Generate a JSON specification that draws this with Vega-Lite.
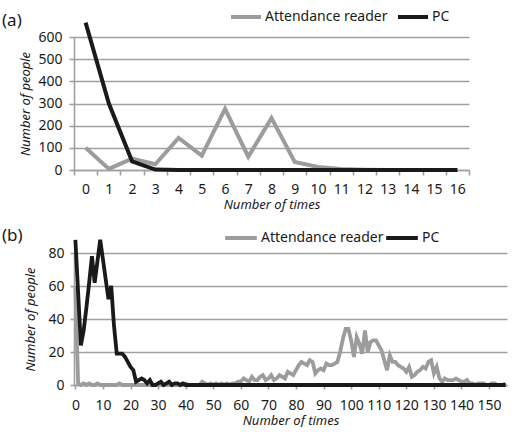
{
  "$schema": "https://vega.github.io/schema/vega-lite/v6.json",
  "padding": {"left": 2, "top": 0, "right": 5, "bottom": 0},
  "config": {
    "font": "Noto Sans",
    "view": {"stroke": null},
    "axis": {
      "labelFontSize": 14, "labelColor": "#1a1a1a",
      "titleFontSize": 13, "titleFontStyle": "italic", "titleFontWeight": "normal", "titleColor": "#1a1a1a",
      "domainColor": "#a0a0a0", "tickColor": "#a0a0a0", "gridColor": "#a0a0a0",
      "gridWidth": 1.6, "domainWidth": 1.6, "tickWidth": 1.6
    },
    "legend": {"labelFontSize": 14, "labelColor": "#1a1a1a"}
  },
  "spacing": 9,
  "resolve": {"scale": {"color": "independent"}, "legend": {"color": "independent"}},
  "vconcat": [
    {
      "width": 395, "height": 133,
      "title": {"text": "(a)", "anchor": "start", "frame": "group", "dx": -72, "offset": -30, "fontSize": 17, "fontWeight": "normal", "color": "#1a1a1a"},
      "data": {"values": [
        {"t": 0, "Attendance reader": 100, "PC": 665},
        {"t": 1, "Attendance reader": 5, "PC": 300},
        {"t": 2, "Attendance reader": 51, "PC": 39},
        {"t": 3, "Attendance reader": 26, "PC": 2},
        {"t": 4, "Attendance reader": 145, "PC": 0},
        {"t": 5, "Attendance reader": 65, "PC": 0},
        {"t": 6, "Attendance reader": 276, "PC": 0},
        {"t": 7, "Attendance reader": 60, "PC": 0},
        {"t": 8, "Attendance reader": 234, "PC": 0},
        {"t": 9, "Attendance reader": 36, "PC": 0},
        {"t": 10, "Attendance reader": 14, "PC": 0},
        {"t": 11, "Attendance reader": 4, "PC": 0},
        {"t": 12, "Attendance reader": 1, "PC": 0},
        {"t": 13, "Attendance reader": 0, "PC": 0},
        {"t": 14, "Attendance reader": 0, "PC": 0},
        {"t": 15, "Attendance reader": 0, "PC": 0},
        {"t": 16, "Attendance reader": 0, "PC": 0}
      ]},
      "transform": [{"fold": ["Attendance reader", "PC"], "as": ["series", "people"]}],
      "mark": {"type": "line", "strokeWidth": 4, "clip": false},
      "encoding": {
        "x": {"field": "t", "type": "quantitative",
          "scale": {"domain": [-0.5, 16.5], "nice": false, "zero": false},
          "axis": {"title": "Number of times", "values": [-0.5,0.5,1.5,2.5,3.5,4.5,5.5,6.5,7.5,8.5,9.5,10.5,11.5,12.5,13.5,14.5,15.5,16.5],
            "labelExpr": "datum.value > 16 ? '' : format(datum.value + 0.5, 'd')",
            "labelOffset": 11.6, "labelFlush": false, "labelOverlap": false, "labelBound": false,
            "tickSize": 5, "labelPadding": 7, "titlePadding": 2, "grid": false}},
        "y": {"field": "people", "type": "quantitative",
          "scale": {"domain": [0, 600], "nice": false},
          "axis": {"title": "Number of people", "values": [0,100,200,300,400,500,600], "grid": true, "tickSize": 5, "labelPadding": 7, "titlePadding": 5}},
        "color": {"field": "series", "type": "nominal",
          "scale": {"domain": ["Attendance reader", "PC"], "range": ["#9c9c9c", "#1a1a1a"]},
          "legend": {"title": null, "orient": "none", "legendX": 155, "legendY": -37, "direction": "horizontal",
            "symbolType": "stroke", "symbolStrokeWidth": 4, "symbolSize": 900, "labelOffset": 2, "columnPadding": 2}}
      }
    },
    {
      "width": 433, "height": 132,
      "title": {"text": "(b)", "anchor": "start", "frame": "group", "dx": -72, "offset": -25, "fontSize": 17, "fontWeight": "normal", "color": "#1a1a1a"},
      "data": {"values": [
        {"t":0,"Attendance reader":60,"PC":88},{"t":1,"Attendance reader":1,"PC":56},{"t":2,"Attendance reader":0,"PC":24},{"t":3,"Attendance reader":1,"PC":33},{"t":4,"Attendance reader":0,"PC":47},
        {"t":5,"Attendance reader":1,"PC":62},{"t":6,"Attendance reader":0,"PC":78},{"t":7,"Attendance reader":0,"PC":62},{"t":8,"Attendance reader":1,"PC":75},{"t":9,"Attendance reader":0,"PC":88},
        {"t":10,"Attendance reader":0,"PC":76},{"t":11,"Attendance reader":0,"PC":64},{"t":12,"Attendance reader":0,"PC":52},{"t":13,"Attendance reader":0,"PC":60},{"t":14,"Attendance reader":0,"PC":36},
        {"t":15,"Attendance reader":0,"PC":19},{"t":16,"Attendance reader":1,"PC":19},{"t":17,"Attendance reader":0,"PC":19},{"t":18,"Attendance reader":0,"PC":17},{"t":19,"Attendance reader":0,"PC":14},
        {"t":20,"Attendance reader":0,"PC":11},{"t":21,"Attendance reader":0,"PC":9},{"t":22,"Attendance reader":0,"PC":2},{"t":23,"Attendance reader":0,"PC":3},{"t":24,"Attendance reader":0,"PC":4},
        {"t":25,"Attendance reader":0,"PC":3},{"t":26,"Attendance reader":0,"PC":1},{"t":27,"Attendance reader":0,"PC":3},{"t":28,"Attendance reader":0,"PC":0},{"t":29,"Attendance reader":0,"PC":0},
        {"t":30,"Attendance reader":0,"PC":1},{"t":31,"Attendance reader":0,"PC":2},{"t":32,"Attendance reader":0,"PC":0},{"t":33,"Attendance reader":0,"PC":1},{"t":34,"Attendance reader":0,"PC":2},
        {"t":35,"Attendance reader":0,"PC":0},{"t":36,"Attendance reader":0,"PC":1},{"t":37,"Attendance reader":0,"PC":1},{"t":38,"Attendance reader":0,"PC":0},{"t":39,"Attendance reader":0,"PC":1},
        {"t":40,"Attendance reader":1,"PC":0},{"t":41,"Attendance reader":0,"PC":0},{"t":42,"Attendance reader":0,"PC":0},{"t":43,"Attendance reader":0,"PC":0},{"t":44,"Attendance reader":0,"PC":0},
        {"t":45,"Attendance reader":0,"PC":0},{"t":46,"Attendance reader":2,"PC":0},{"t":47,"Attendance reader":1,"PC":0},{"t":48,"Attendance reader":0,"PC":0},{"t":49,"Attendance reader":1,"PC":0},
        {"t":50,"Attendance reader":0,"PC":0},{"t":51,"Attendance reader":1,"PC":0},{"t":52,"Attendance reader":0,"PC":0},{"t":53,"Attendance reader":1,"PC":0},{"t":54,"Attendance reader":0,"PC":0},
        {"t":55,"Attendance reader":1,"PC":0},{"t":56,"Attendance reader":0,"PC":0},{"t":57,"Attendance reader":1,"PC":0},{"t":58,"Attendance reader":1,"PC":0},{"t":59,"Attendance reader":2,"PC":0},
        {"t":60,"Attendance reader":2,"PC":0},{"t":61,"Attendance reader":4,"PC":0},{"t":62,"Attendance reader":3,"PC":0},{"t":63,"Attendance reader":2,"PC":0},{"t":64,"Attendance reader":5,"PC":0},
        {"t":65,"Attendance reader":3,"PC":0},{"t":66,"Attendance reader":3,"PC":0},{"t":67,"Attendance reader":5,"PC":0},{"t":68,"Attendance reader":6,"PC":0},{"t":69,"Attendance reader":3,"PC":0},
        {"t":70,"Attendance reader":4,"PC":0},{"t":71,"Attendance reader":6,"PC":0},{"t":72,"Attendance reader":3,"PC":0},{"t":73,"Attendance reader":4,"PC":0},{"t":74,"Attendance reader":6,"PC":0},
        {"t":75,"Attendance reader":5,"PC":0},{"t":76,"Attendance reader":4,"PC":0},{"t":77,"Attendance reader":8,"PC":0},{"t":78,"Attendance reader":7,"PC":0},{"t":79,"Attendance reader":6,"PC":0},
        {"t":80,"Attendance reader":9,"PC":0},{"t":81,"Attendance reader":12,"PC":0},{"t":82,"Attendance reader":14,"PC":0},{"t":83,"Attendance reader":13,"PC":0},{"t":84,"Attendance reader":12,"PC":0},
        {"t":85,"Attendance reader":15,"PC":0},{"t":86,"Attendance reader":14,"PC":0},{"t":87,"Attendance reader":7,"PC":0},{"t":88,"Attendance reader":9,"PC":0},{"t":89,"Attendance reader":10,"PC":0},
        {"t":90,"Attendance reader":9,"PC":0},{"t":91,"Attendance reader":13,"PC":0},{"t":92,"Attendance reader":12,"PC":0},{"t":93,"Attendance reader":12,"PC":0},{"t":94,"Attendance reader":13,"PC":0},
        {"t":95,"Attendance reader":14,"PC":0},{"t":96,"Attendance reader":20,"PC":0},{"t":97,"Attendance reader":28,"PC":0},{"t":98,"Attendance reader":34,"PC":0},{"t":99,"Attendance reader":34,"PC":0},
        {"t":100,"Attendance reader":27,"PC":0},{"t":101,"Attendance reader":17,"PC":0},{"t":102,"Attendance reader":29,"PC":0},{"t":103,"Attendance reader":25,"PC":0},{"t":104,"Attendance reader":19,"PC":0},
        {"t":105,"Attendance reader":33,"PC":0},{"t":106,"Attendance reader":20,"PC":0},{"t":107,"Attendance reader":26,"PC":0},{"t":108,"Attendance reader":27,"PC":0},{"t":109,"Attendance reader":27,"PC":0},
        {"t":110,"Attendance reader":24,"PC":0},{"t":111,"Attendance reader":21,"PC":0},{"t":112,"Attendance reader":15,"PC":0},{"t":113,"Attendance reader":9,"PC":0},{"t":114,"Attendance reader":18,"PC":0},
        {"t":115,"Attendance reader":14,"PC":0},{"t":116,"Attendance reader":14,"PC":0},{"t":117,"Attendance reader":12,"PC":0},{"t":118,"Attendance reader":11,"PC":0},{"t":119,"Attendance reader":10,"PC":0},
        {"t":120,"Attendance reader":8,"PC":0},{"t":121,"Attendance reader":11,"PC":0},{"t":122,"Attendance reader":5,"PC":0},{"t":123,"Attendance reader":6,"PC":0},{"t":124,"Attendance reader":8,"PC":0},
        {"t":125,"Attendance reader":9,"PC":0},{"t":126,"Attendance reader":11,"PC":0},{"t":127,"Attendance reader":10,"PC":0},{"t":128,"Attendance reader":14,"PC":0},{"t":129,"Attendance reader":15,"PC":0},
        {"t":130,"Attendance reader":7,"PC":0},{"t":131,"Attendance reader":11,"PC":0},{"t":132,"Attendance reader":4,"PC":0},{"t":133,"Attendance reader":2,"PC":0},{"t":134,"Attendance reader":4,"PC":0},
        {"t":135,"Attendance reader":3,"PC":0},{"t":136,"Attendance reader":3,"PC":0},{"t":137,"Attendance reader":3,"PC":0},{"t":138,"Attendance reader":4,"PC":0},{"t":139,"Attendance reader":3,"PC":0},
        {"t":140,"Attendance reader":2,"PC":0},{"t":141,"Attendance reader":2,"PC":0},{"t":142,"Attendance reader":3,"PC":0},{"t":143,"Attendance reader":1,"PC":0},{"t":144,"Attendance reader":1,"PC":0},
        {"t":145,"Attendance reader":0,"PC":0},{"t":146,"Attendance reader":1,"PC":0},{"t":147,"Attendance reader":1,"PC":0},{"t":148,"Attendance reader":1,"PC":0},{"t":149,"Attendance reader":0,"PC":0},
        {"t":150,"Attendance reader":0,"PC":0},{"t":151,"Attendance reader":1,"PC":0},{"t":152,"Attendance reader":1,"PC":0},{"t":153,"Attendance reader":0,"PC":0},{"t":154,"Attendance reader":0,"PC":0},
        {"t":155,"Attendance reader":0,"PC":0},{"t":156,"Attendance reader":1,"PC":0}
      ]},
      "transform": [{"fold": ["Attendance reader", "PC"], "as": ["series", "people"]}],
      "mark": {"type": "line", "strokeWidth": 3.8, "clip": false},
      "encoding": {
        "x": {"field": "t", "type": "quantitative",
          "scale": {"domain": [-0.5, 156.5], "nice": false, "zero": false},
          "axis": {"title": "Number of times", "values": [0,10,20,30,40,50,60,70,80,90,100,110,120,130,140,150],
            "labelFlush": false, "labelOverlap": false, "labelBound": false,
            "tickSize": 4, "labelPadding": 9, "titlePadding": 2, "grid": false}},
        "y": {"field": "people", "type": "quantitative",
          "scale": {"domain": [0, 80], "nice": false},
          "axis": {"title": "Number of people", "values": [0,20,40,60,80], "grid": true, "tickSize": 4, "labelPadding": 6, "titlePadding": 10}},
        "color": {"field": "series", "type": "nominal",
          "scale": {"domain": ["Attendance reader", "PC"], "range": ["#9c9c9c", "#1a1a1a"]},
          "legend": {"title": null, "orient": "none", "legendX": 149, "legendY": -33, "direction": "horizontal",
            "symbolType": "stroke", "symbolStrokeWidth": 4, "symbolSize": 1000, "labelOffset": 2, "columnPadding": -13}}
      }
    }
  ]
}
